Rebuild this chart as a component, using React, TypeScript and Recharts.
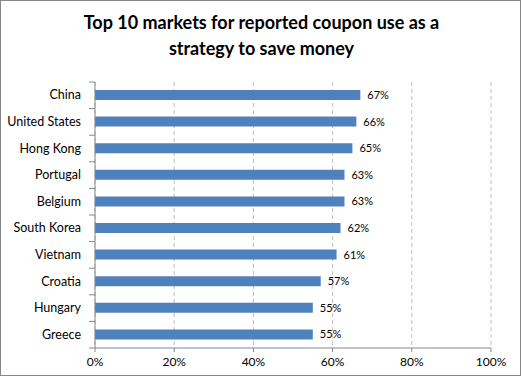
import React from "react";
import { BarChart, Bar, XAxis, YAxis, CartesianGrid, LabelList } from "recharts";

const markets = [
  "China",
  "United States",
  "Hong Kong",
  "Portugal",
  "Belgium",
  "South Korea",
  "Vietnam",
  "Croatia",
  "Hungary",
  "Greece",
];
const couponUse = [67, 66, 65, 63, 63, 62, 61, 57, 55, 55];
const xTicks = [0, 20, 40, 60, 80, 100];

const data = markets.map((name, i) => ({ name, value: couponUse[i] }));

const W = 521;
const H = 376;
const PLOT_TOP = 82;
const PLOT_BOTTOM = 348;
const BAND = (PLOT_BOTTOM - PLOT_TOP) / markets.length;
const FONT = "Lato, 'Open Sans', sans-serif";

// Excel draws category ticks between bands, so shift them by half a band
function CategoryTick(props: any) {
  const { x, y, payload, index } = props;
  return (
    <g>
      <line x1={x + 8} x2={x + 14} y1={y + BAND / 2} y2={y + BAND / 2} stroke="#868686" />
      {index === 0 && (
        <line x1={x + 8} x2={x + 14} y1={y - BAND / 2} y2={y - BAND / 2} stroke="#868686" />
      )}
      <text x={x} y={y} dy={4} textAnchor="end" fontSize={12.5} fill="#000" fontFamily={FONT}>
        {payload.value}
      </text>
    </g>
  );
}

export default function App() {
  return (
    <div
      style={{
        position: "absolute",
        left: 0,
        top: 0,
        width: W,
        height: H,
        background: "#fff",
        boxSizing: "border-box",
        border: "1px solid #868686",
        fontFamily: FONT,
      }}
    >
      <div
        style={{
          position: "absolute",
          top: 8,
          left: 0,
          width: W,
          textAlign: "center",
          fontWeight: 700,
          fontSize: 18,
          lineHeight: "26px",
          color: "#000",
        }}
      >
        Top 10 markets for reported coupon use as a
        <br />
        strategy to save money
      </div>
      <div style={{ position: "absolute", left: -1, top: -1 }}>
        <BarChart
          width={W}
          height={H}
          data={data}
          layout="vertical"
          margin={{ top: PLOT_TOP, right: 30, bottom: 0, left: 0 }}
        >
          <CartesianGrid
            horizontal={false}
            stroke="#BFBFBF"
            strokeDasharray="4 3"
          />
          <XAxis
            type="number"
            domain={[0, 100]}
            ticks={xTicks}
            tickFormatter={(v: number) => `${v}%`}
            stroke="#868686"
            tickSize={4}
            tickMargin={5}
            tick={{ fontSize: 12, fill: "#000", fontFamily: FONT }}
            height={H - PLOT_BOTTOM}
          />
          <YAxis
            type="category"
            dataKey="name"
            width={95}
            stroke="#868686"
            tickLine={false}
            tickSize={0}
            tickMargin={14}
            tick={<CategoryTick />}
            interval={0}
          />
          <Bar dataKey="value" fill="#4F81BD" barSize={10} isAnimationActive={false}>
            <LabelList
              dataKey="value"
              position="right"
              offset={7}
              formatter={(v: any) => `${v}%`}
              style={{ fontSize: 11, fill: "#000", fontFamily: FONT }}
            />
          </Bar>
        </BarChart>
      </div>
    </div>
  );
}
